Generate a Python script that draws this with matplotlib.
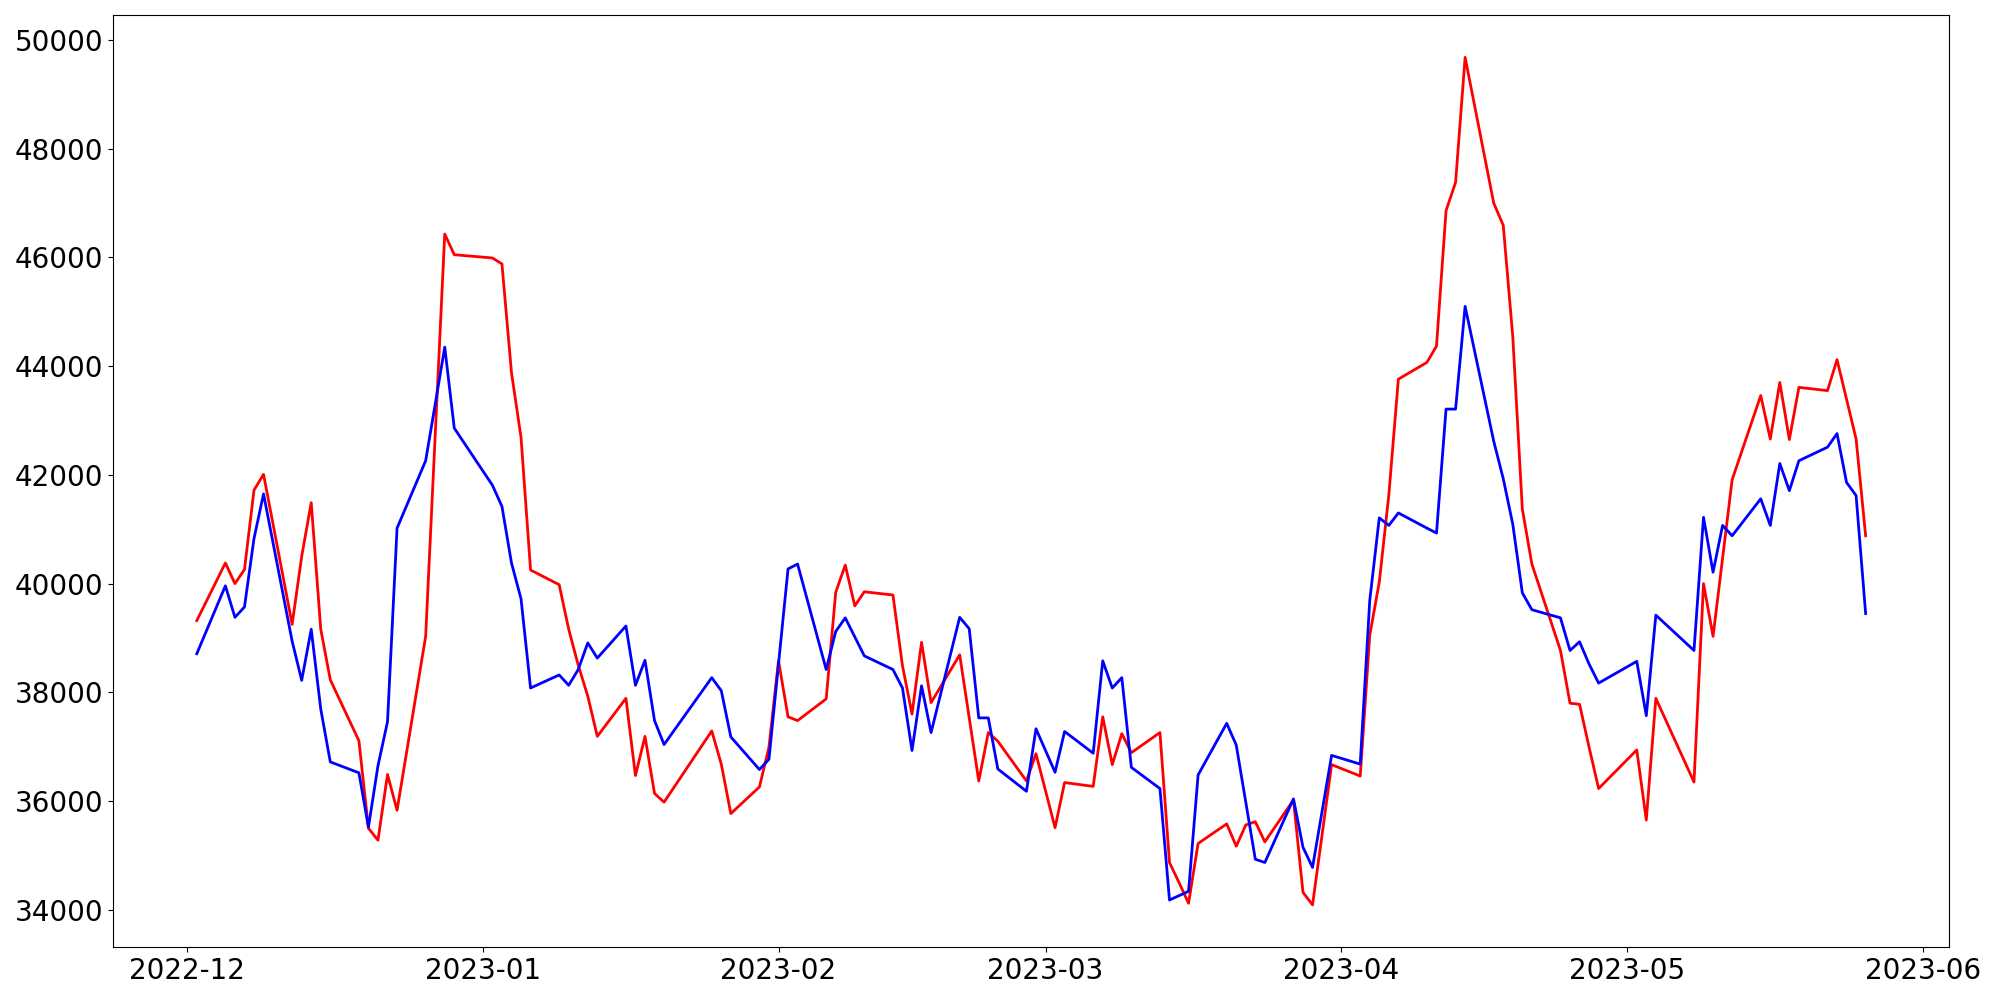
import pandas as pd
import matplotlib
matplotlib.use("Agg")
import matplotlib.pyplot as plt

# Trading days (KRX calendar: year-end close, Seollal, Mar 1, May 1, May 5)
holidays = ["2022-12-30", "2023-01-23", "2023-01-24", "2023-03-01",
            "2023-05-01", "2023-05-05"]
dates = pd.bdate_range("2022-12-02", "2023-05-26")
dates = dates[~dates.isin(pd.to_datetime(holidays))]

# red series, month by month
red_dec = [39320, 40380, 40000, 40260, 41720, 42010, 39250, 40500, 41490, 39160,
           38230, 37110, 35500, 35280, 36490, 35830, 39030, 42730, 46430, 46050]
red_jan = [45990, 45880, 43880, 42690, 40250, 39980, 39160, 38500, 37930, 37190,
           37890, 36470, 37190, 36140, 35980, 37290, 36680, 35770, 36260, 36990]
red_feb = [38580, 37550, 37480, 37880, 39840, 40340, 39590, 39850, 39790, 38490,
           37600, 38920, 37810, 38690, 37530, 36370, 37260, 37100, 36370, 36870]
red_mar = [35510, 36340, 36270, 37550, 36670, 37240, 36890, 37260, 34870, 34500,
           34120, 35220, 35580, 35170, 35560, 35620, 35250, 36020, 34320, 34090,
           35380, 36670]
red_apr = [36460, 39050, 40030, 41630, 43760, 44070, 44370, 46860, 47380, 49680,
           47000, 46590, 44540, 41370, 40360, 38770, 37800, 37780, 36990, 36230]
red_may = [36940, 35650, 37890, 36350, 40000, 39030, 40470, 41910, 43460, 42660,
           43700, 42650, 43610, 43550, 44120, 43390, 42660, 40880]

# blue series, month by month
blue_dec = [38710, 39960, 39380, 39570, 40830, 41650, 38940, 38220, 39160, 37690,
            36720, 36520, 35520, 36650, 37460, 41020, 42260, 43300, 44350, 42860]
blue_jan = [41810, 41420, 40380, 39720, 38080, 38320, 38130, 38420, 38910, 38630,
            39220, 38130, 38590, 37480, 37040, 38270, 38030, 37180, 36580, 36770]
blue_feb = [38520, 40270, 40360, 38420, 39120, 39370, 39020, 38670, 38420, 38080,
            36930, 38120, 37260, 39380, 39170, 37530, 37530, 36590, 36180, 37330]
blue_mar = [36530, 37280, 36880, 38580, 38080, 38270, 36620, 36230, 34180, 34260,
            34340, 36480, 37430, 37030, 35980, 34930, 34870, 36040, 35150, 34780,
            35810, 36840]
blue_apr = [36680, 39690, 41210, 41070, 41300, 41020, 40930, 43210, 43210, 45100,
            42620, 41930, 41090, 39830, 39520, 39370, 38770, 38930, 38520, 38170]
blue_may = [38570, 37570, 39420, 38770, 41220, 40210, 41070, 40880, 41560, 41070,
            42210, 41710, 42260, 42510, 42760, 41860, 41620, 39450]

red = red_dec + red_jan + red_feb + red_mar + red_apr + red_may
blue = blue_dec + blue_jan + blue_feb + blue_mar + blue_apr + blue_may

df = pd.DataFrame({"red": red, "blue": blue}, index=dates)

plt.figure(figsize=(20, 10), dpi=100)
plt.plot(df.index, df["red"], color="red", linewidth=2)
plt.plot(df.index, df["blue"], color="blue", linewidth=2)
plt.xticks(fontsize=20)
plt.yticks(fontsize=20)

plt.tight_layout()
plt.savefig("out.png")
